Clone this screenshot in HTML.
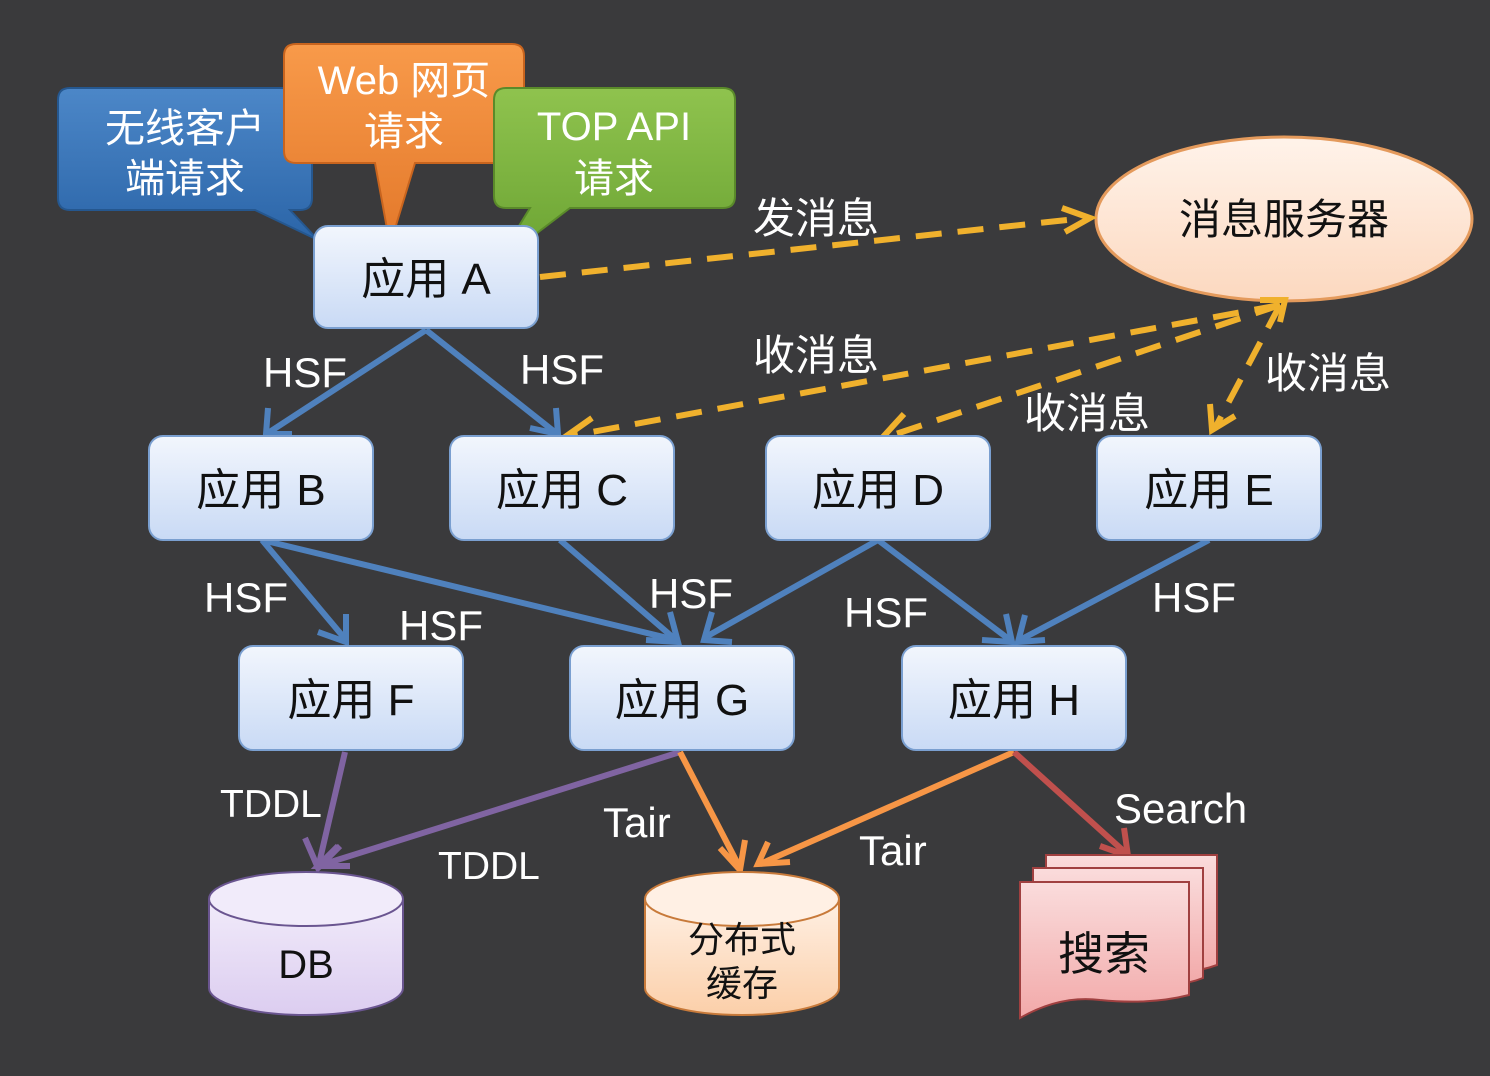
<!DOCTYPE html>
<html><head><meta charset="utf-8"><style>
html,body{margin:0;padding:0;background:#3a3a3c;}
svg{display:block;}
text{font-family:"Liberation Sans","Noto Sans CJK SC",sans-serif;}
</style></head><body>
<svg width="1490" height="1076" viewBox="0 0 1490 1076" xmlns="http://www.w3.org/2000/svg">
<defs>
<linearGradient id="nb" x1="0" y1="0" x2="0" y2="1"><stop offset="0" stop-color="#f2f6fd"/><stop offset="1" stop-color="#c9daf5"/></linearGradient>
<linearGradient id="el" x1="0" y1="0" x2="0" y2="1"><stop offset="0" stop-color="#fff3ea"/><stop offset="1" stop-color="#fcd8bf"/></linearGradient>
<linearGradient id="cb" x1="0" y1="0" x2="0" y2="1"><stop offset="0" stop-color="#f1ebfa"/><stop offset="1" stop-color="#dccdf0"/></linearGradient>
<linearGradient id="cc" x1="0" y1="0" x2="0" y2="1"><stop offset="0" stop-color="#fff0e4"/><stop offset="1" stop-color="#fbcfa9"/></linearGradient>
<linearGradient id="cs" x1="0" y1="0" x2="0" y2="1"><stop offset="0" stop-color="#fadcdc"/><stop offset="1" stop-color="#f2a9a9"/></linearGradient>
<linearGradient id="gb" x1="0" y1="0" x2="0" y2="1"><stop offset="0" stop-color="#4c87c8"/><stop offset="1" stop-color="#2b65a8"/></linearGradient>
<linearGradient id="go" x1="0" y1="0" x2="0" y2="1"><stop offset="0" stop-color="#f89a4a"/><stop offset="1" stop-color="#e3782a"/></linearGradient>
<linearGradient id="gg" x1="0" y1="0" x2="0" y2="1"><stop offset="0" stop-color="#8fc34e"/><stop offset="1" stop-color="#6aa232"/></linearGradient>
</defs>
<rect width="1490" height="1076" fill="#3a3a3c"/>

<!-- callouts -->
<path d="M70,88 H300 Q312,88 312,100 V198 Q312,210 300,210 H290 L318,240 L255,210 H70 Q58,210 58,198 V100 Q58,88 70,88Z" fill="url(#gb)" stroke="#25578f" stroke-width="2"/>
<text x="185" y="142" font-size="40" fill="#fff" text-anchor="middle">无线客户</text>
<text x="185" y="192" font-size="40" fill="#fff" text-anchor="middle">端请求</text>
<path d="M296,44 H512 Q524,44 524,56 V151 Q524,163 512,163 H415 L390,245 L375,163 H296 Q284,163 284,151 V56 Q284,44 296,44Z" fill="url(#go)" stroke="#c8641e" stroke-width="2"/>
<text x="404" y="94" font-size="40" fill="#fff" text-anchor="middle">Web 网页</text>
<text x="404" y="145" font-size="40" fill="#fff" text-anchor="middle">请求</text>
<path d="M506,88 H723 Q735,88 735,100 V196 Q735,208 723,208 H570 L495,265 L530,208 H506 Q494,208 494,196 V100 Q494,88 506,88Z" fill="url(#gg)" stroke="#5a8a2a" stroke-width="2"/>
<text x="614" y="140" font-size="40" fill="#fff" text-anchor="middle">TOP API</text>
<text x="614" y="192" font-size="40" fill="#fff" text-anchor="middle">请求</text>

<!-- ellipse -->
<ellipse cx="1284" cy="219" rx="188" ry="82" fill="url(#el)" stroke="#e49a5c" stroke-width="3"/>
<text x="1284" y="234" font-size="42" fill="#111" text-anchor="middle">消息服务器</text>

<!-- dashed -->
<g stroke="#f0b12d" stroke-width="6" fill="none" stroke-dasharray="26,16">
<path d="M540,277 L1085,218"/>
<path d="M1280,305 L570,436"/>
<path d="M1280,305 L890,436"/>
<path d="M1280,305 L1215,428"/>
</g>
<g stroke="#f0b12d" stroke-width="6" fill="none">
<path d="M1062,208 L1090,218 L1065,232"/>
<path d="M1260,300 L1285,300 L1280,322"/>
<path d="M592,418 L565,437 L598,442"/>
<path d="M904,414 L882,438 L912,440"/>
<path d="M1210,404 L1212,430 L1235,416"/>
</g>

<!-- blue edges -->
<g stroke="#4f81bd" stroke-width="6" fill="none">
<path d="M426,330 L268,433"/><path d="M426,330 L556,433"/>
<path d="M262,540 L346,640"/><path d="M262,540 L676,640"/>
<path d="M560,540 L676,640"/>
<path d="M878,540 L704,638"/><path d="M878,540 L1010,640"/>
<path d="M1209,540 L1020,640"/>
</g>
<g stroke="#4f81bd" stroke-width="6" fill="none">
<path d="M268,408 L266,434 L292,434"/>
<path d="M530,428 L558,434 L556,408"/>
<path d="M318,632 L346,642 L346,614"/>
<path d="M646,640 L678,642 L670,612"/>
<path d="M712,612 L704,640 L732,642"/>
<path d="M982,640 L1012,642 L1006,614"/>
<path d="M1025,615 L1018,642 L1045,640"/>
</g>

<!-- purple/orange/red -->
<g stroke="#8064a2" stroke-width="6" fill="none">
<path d="M345,752 L318,868"/><path d="M680,752 L318,866"/>
<path d="M305,838 L318,868 L340,846"/>
<path d="M338,846 L318,866 L350,866"/>
</g>
<g stroke="#f79646" stroke-width="6" fill="none">
<path d="M680,752 L740,868"/><path d="M1014,752 L760,864"/>
<path d="M720,848 L740,870 L745,840"/>
<path d="M768,842 L758,864 L790,862"/>
</g>
<g stroke="#c0504d" stroke-width="6" fill="none">
<path d="M1014,752 L1128,855"/>
<path d="M1100,846 L1128,856 L1124,828"/>
</g>

<!-- nodes -->
<g stroke="#7a9fd0" stroke-width="2" fill="url(#nb)">
<rect x="314" y="226" width="224" height="102" rx="14"/>
<rect x="149" y="436" width="224" height="104" rx="14"/>
<rect x="450" y="436" width="224" height="104" rx="14"/>
<rect x="766" y="436" width="224" height="104" rx="14"/>
<rect x="1097" y="436" width="224" height="104" rx="14"/>
<rect x="239" y="646" width="224" height="104" rx="14"/>
<rect x="570" y="646" width="224" height="104" rx="14"/>
<rect x="902" y="646" width="224" height="104" rx="14"/>
</g>
<g font-size="44" fill="#111" text-anchor="middle">
<text x="426" y="294">应用 A</text>
<text x="261" y="505">应用 B</text>
<text x="562" y="505">应用 C</text>
<text x="878" y="505">应用 D</text>
<text x="1209" y="505">应用 E</text>
<text x="351" y="715">应用 F</text>
<text x="682" y="715">应用 G</text>
<text x="1014" y="715">应用 H</text>
</g>

<!-- DB -->
<path d="M209,899 V988 A97,27 0 0 0 403,988 V899" fill="url(#cb)" stroke="#6a5590" stroke-width="2"/>
<ellipse cx="306" cy="899" rx="97" ry="27" fill="#f1ebfa" stroke="#6a5590" stroke-width="2"/>
<text x="306" y="978" font-size="40" fill="#111" text-anchor="middle">DB</text>
<!-- cache -->
<path d="M645,899 V988 A97,27 0 0 0 839,988 V899" fill="url(#cc)" stroke="#c87a3a" stroke-width="2"/>
<ellipse cx="742" cy="899" rx="97" ry="27" fill="#fff0e4" stroke="#c87a3a" stroke-width="2"/>
<text x="742" y="952" font-size="36" fill="#111" text-anchor="middle">分布式</text>
<text x="742" y="996" font-size="36" fill="#111" text-anchor="middle">缓存</text>
<!-- search -->
<g stroke="#a04040" stroke-width="2" fill="url(#cs)">
<path d="M1046,855 H1217 V965 Q1190,975 1170,968 H1046Z"/>
<path d="M1033,868 H1203 V978 Q1178,988 1156,980 H1033Z"/>
<path d="M1020,882 H1189 V995 Q1150,1005 1100,1000 Q1060,995 1020,1018Z"/>
</g>
<text x="1104" y="970" font-size="46" fill="#111" text-anchor="middle">搜索</text>

<!-- labels -->
<g font-size="42" fill="#fff">
<text x="263" y="387">HSF</text>
<text x="520" y="384">HSF</text>
<text x="204" y="612">HSF</text>
<text x="399" y="640">HSF</text>
<text x="649" y="608">HSF</text>
<text x="844" y="627">HSF</text>
<text x="1152" y="612">HSF</text>
<text x="753" y="233">发消息</text>
<text x="753" y="370">收消息</text>
<text x="1024" y="428">收消息</text>
<text x="1265" y="388">收消息</text>
<text x="220" y="817" font-size="39">TDDL</text>
<text x="438" y="879" font-size="39">TDDL</text>
<text x="603" y="837">Tair</text>
<text x="859" y="865">Tair</text>
<text x="1114" y="823">Search</text>
</g>
</svg>
</body></html>
